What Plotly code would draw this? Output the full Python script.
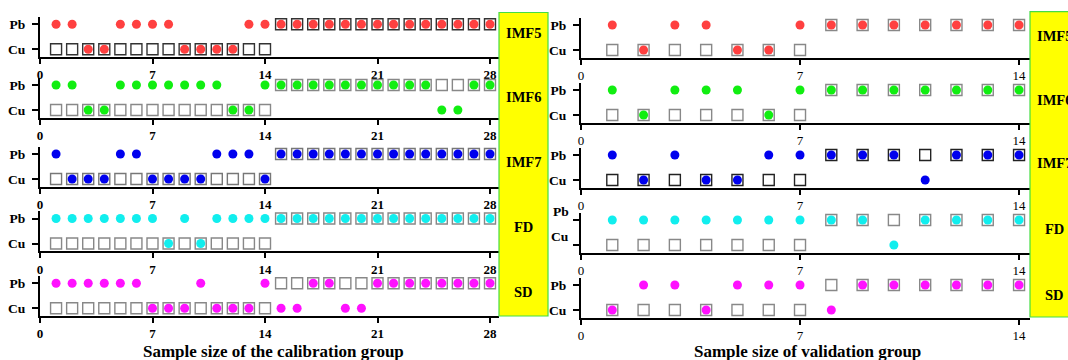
import plotly.graph_objects as go

# ---- data -------------------------------------------------------------
methods = ["IMF5", "IMF6", "IMF7", "FD", "SD"]

# sample indices
cal_samples = list(range(1, 29))
val_samples = list(range(1, 15))

# true class of each sample
cal_true = ["Cu"] * 14 + ["Pb"] * 14
val_true = ["Cu"] * 7 + ["Pb"] * 7

# predicted class, P = Pb, C = Cu (calibration group, samples 1..28)
cal_pred = {
    "IMF5": "PPCCPPPPCCCCPP" + "PPPPPPPPPPPPPP",
    "IMF6": "PPCCPPPPPPPCCP" + "PPPPPPPPPPCCPP",
    "IMF7": "PCCCPPCCCCPPPC" + "PPPPPPPPPPPPPP",
    "FD":   "PPPPPPPCPCPPPP" + "PPPPPPPPPPPPPP",
    "SD":   "PPPPPPCCCPCCCP" + "CCPPCCPPPPPPPP",
}
# predicted class (validation group, samples 1..14)
val_pred = {
    "IMF5": "PCPPCCP" + "PPPPPPP",
    "IMF6": "PCPPPCP" + "PPPPPPP",
    "IMF7": "PCPCCPP" + "PPPCPPP",
    "FD":   "PPPPPPP" + "PPCPPPP",
    "SD":   "CPPCPPP" + "CPPPPPP",
}

cal_ticks = [0, 7, 14, 21, 28]
val_ticks = [0, 7, 14]
class_labels = ["Cu", "Pb"]

# ---- styling ----------------------------------------------------------
W, H = 1068, 360
SERIF = "Liberation Serif"
dot_colors = ["#ff4040", "#11ee11", "#0000ee", "#11eeee", "#ff11ff"]
cal_box_colors = ["#333333", "#888888", "#777777", "#888888", "#888888"]
val_box_colors = ["#888888", "#888888", "#222222", "#888888", "#888888"]

# pixel rows of the Cu line in each panel
cal_cu_px = [49.3, 110.0, 179.0, 243.5, 308.3]
val_cu_px = [50.0, 115.0, 180.0, 245.0, 310.0]

ylab_font = dict(family=SERIF, size=13.5, color="black", weight="bold")


def fx(px):
    return px / W


def fy(py):
    return 1 - py / H


def to_label(s):
    return ["Pb" if c == "P" else "Cu" for c in s]


fig = go.Figure()
layout_axes = {}
annotations = []

panels = [
    # samples, truth, preds, ticks, x0px, x1px, xmax, cu rows, box colours, tick font
    (cal_samples, cal_true, cal_pred, cal_ticks, 40, 499, 28.56, cal_cu_px, cal_box_colors,
     dict(family=SERIF, size=13, color="black", weight="bold")),
    (val_samples, val_true, val_pred, val_ticks, 581, 1030, 14.35, val_cu_px, val_box_colors,
     dict(family=SERIF, size=13, color="black")),
]

k = 0
for p, (samples, truth, preds, ticks, x0, x1, xmax, cu_rows, box_cols, xfont) in enumerate(panels):
    for r, m in enumerate(methods):
        k += 1
        xa = "x" if k == 1 else f"x{k}"
        ya = "y" if k == 1 else f"y{k}"
        bottom = cu_rows[r] + 7.5
        top = bottom - 40

        fig.add_trace(go.Scatter(
            x=samples, y=truth, mode="markers", xaxis=xa, yaxis=ya,
            marker=dict(symbol="square-open", size=11, color=box_cols[r],
                        line=dict(width=1.4, color=box_cols[r])),
            showlegend=False, hoverinfo="skip"))
        fig.add_trace(go.Scatter(
            x=samples, y=to_label(preds[m]), mode="markers", xaxis=xa, yaxis=ya,
            marker=dict(symbol="circle", size=9, color=dot_colors[r], line=dict(width=0)),
            showlegend=False))

        layout_axes["xaxis" if k == 1 else f"xaxis{k}"] = dict(
            domain=[fx(x0), fx(x1)], range=[0, xmax], anchor=ya,
            tickmode="array", tickvals=ticks, ticktext=[str(t) for t in ticks],
            ticks="outside", ticklen=5, tickwidth=1.5, tickcolor="black",
            showline=True, linecolor="black", linewidth=2,
            showgrid=False, zeroline=False, tickfont=xfont, fixedrange=True)

        # the FD row of the validation panel carries its class labels raised above the ticks
        raised = (p == 1 and m == "FD")
        ydict = dict(
            domain=[fy(bottom), fy(top)], anchor=xa,
            type="category", categoryorder="array", categoryarray=class_labels,
            range=[-0.3, 1.3],
            ticks="outside", ticklen=6, tickwidth=1.5, tickcolor="black",
            showline=True, linecolor="black", linewidth=2,
            showgrid=False, zeroline=False,
            tickfont=ylab_font, showticklabels=not raised,
            ticklabelstandoff=4, fixedrange=True)
        layout_axes["yaxis" if k == 1 else f"yaxis{k}"] = ydict
        if raised:
            for ci, lab in enumerate(class_labels):
                annotations.append(dict(
                    text=lab, xref="paper", yref=ya, x=fx(x0 - 10), y=ci,
                    yshift=9, xanchor="right", yanchor="middle", showarrow=False,
                    font=ylab_font))

# yellow method boxes
shapes = []
for bx0, by0, by1 in [(499, 12.5, 316), (1030, 11.7, 317)]:
    shapes.append(dict(type="rect", xref="paper", yref="paper",
                       x0=fx(bx0), x1=fx(bx0 + 49), y0=fy(by1), y1=fy(by0),
                       fillcolor="#ffff00", line=dict(color="#44dd44", width=1.2),
                       layer="above"))

cal_label_px = [33.3, 96.7, 161.7, 226.7, 291.7]
val_label_px = [35.7, 100.0, 163.3, 229.3, 295.0]
for cx, rows in [(523.5, cal_label_px), (1054.5, val_label_px)]:
    for m, py in zip(methods, rows):
        annotations.append(dict(text=m, xref="paper", yref="paper",
                                x=fx(cx), y=fy(py), showarrow=False,
                                xanchor="center", yanchor="middle",
                                font=dict(family=SERIF, size=14.5, color="black", weight="bold")))

for text, cx in [("Sample size of the calibration group", 273.5),
                 ("Sample size of validation group", 807.5)]:
    annotations.append(dict(text=text, xref="paper", yref="paper",
                            x=fx(cx), y=fy(351), showarrow=False,
                            xanchor="center", yanchor="middle",
                            font=dict(family=SERIF, size=17, color="black", weight="bold")))

fig.update_layout(
    width=W, height=H,
    margin=dict(l=0, r=0, t=0, b=0, pad=0, autoexpand=False),
    paper_bgcolor="white", plot_bgcolor="white",
    shapes=shapes, annotations=annotations,
    **layout_axes,
)

fig.write_html("out.html")
